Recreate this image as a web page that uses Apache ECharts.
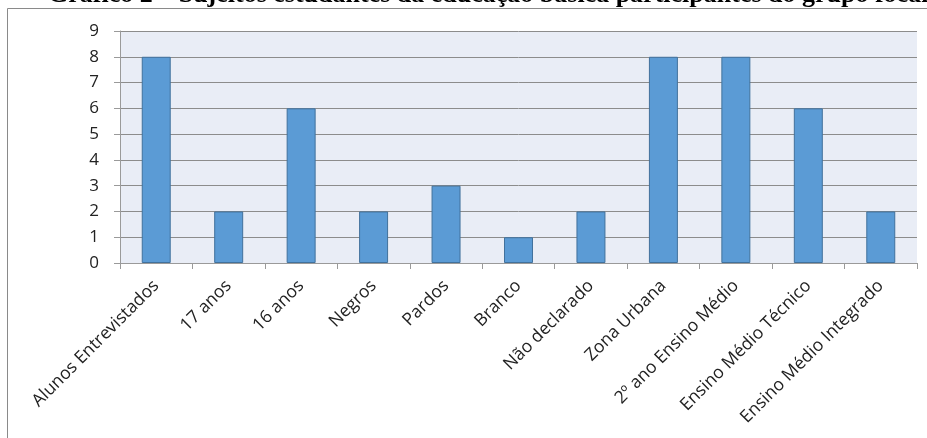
<!DOCTYPE html>
<html>
<head>
<meta charset="utf-8">
<script src="https://cdn.jsdelivr.net/npm/echarts@6/dist/echarts.min.js"></script>
<style>
html,body{margin:0;padding:0;background:#fff;}
#chart{width:927px;height:438px;}
</style>
</head>
<body>
<div id="chart"></div>
<script>
var titleText = 'Gráfico 2 – Sujeitos estudantes da educação básica participantes do grupo focal';
var categories = ['Alunos Entrevistados', '17 anos', '16 anos', 'Negros', 'Pardos', 'Branco', 'Não declarado', 'Zona Urbana', '2º ano Ensino Médio', 'Ensino Médio Técnico', 'Ensino Médio Integrado'];
var values = [8, 2, 6, 2, 3, 1, 2, 8, 8, 6, 2];
var yTicks = [0, 1, 2, 3, 4, 5, 6, 7, 8, 9];

var chart = echarts.init(document.getElementById('chart'), null, {renderer: 'canvas'});
var font = '"Open Sans", "Liberation Sans", sans-serif';
chart.setOption({
  animation: false,
  backgroundColor: '#ffffff',
  graphic: [
    {type: 'line', shape: {x1: 7.5, y1: 8.5, x2: 927, y2: 8.5}, style: {stroke: '#8a8a8a', lineWidth: 1}, z: 10},
    {type: 'line', shape: {x1: 7.5, y1: 8.5, x2: 7.5, y2: 438}, style: {stroke: '#8a8a8a', lineWidth: 1}, z: 10},
    {type: 'text', x: 48, y: -5, style: {text: titleText, font: 'bold 26px "Liberation Serif", "Times New Roman", serif', fill: '#000', verticalAlign: 'middle', align: 'left'}, z: 11}
  ],
  grid: {left: 120, right: 10, top: 31, bottom: 175, show: true, backgroundColor: '#E9EDF6', borderWidth: 0},
  xAxis: {
    type: 'category',
    data: categories,
    boundaryGap: true,
    axisLine: {lineStyle: {color: '#9a9a9a', width: 1}},
    axisTick: {show: true, alignWithLabel: false, length: 6, lineStyle: {color: '#9a9a9a'}},
    axisLabel: {interval: 0, rotate: 45, margin: 20, color: '#222', fontSize: 17.5, fontFamily: font}
  },
  yAxis: {
    type: 'value',
    min: 0, max: 9, interval: 1,
    axisLine: {show: true, lineStyle: {color: '#9a9a9a', width: 1}},
    axisTick: {show: true, length: 6, lineStyle: {color: '#9a9a9a'}},
    axisLabel: {margin: 21, color: '#222', fontSize: 17, fontFamily: font,
      formatter: function (v) { return yTicks.indexOf(v) >= 0 ? String(v) : ''; }},
    splitLine: {show: true, lineStyle: {color: '#8c8c8c', width: 1}}
  },
  series: [{
    type: 'bar',
    data: values,
    barWidth: '40%',
    itemStyle: {color: '#5B9BD5', borderColor: '#41719C', borderWidth: 1}
  }]
});
</script>
</body>
</html>
